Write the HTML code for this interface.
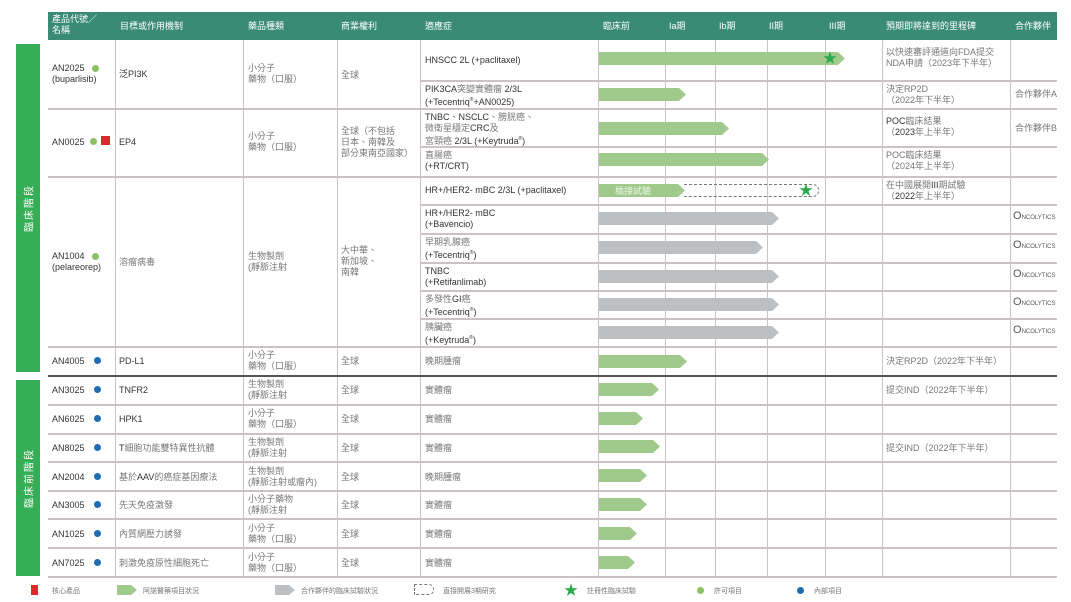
<!DOCTYPE html><html><head><meta charset="utf-8"><style>
body{margin:0;width:1071px;height:602px;background:#fff;position:relative;overflow:hidden;font-family:"Liberation Sans","Noto Sans CJK TC",sans-serif;font-size:9px;color:#333}
div{position:absolute}
.h{background:#398b76;left:48px;top:12px;width:1009px;height:28px}
.ht{color:#fff;font-size:9px;line-height:11px;top:16px}
.v{width:1px;background:#cbc2c4;top:40px;height:537px}
.l{height:1.5px;background:#cbc2c4}
.sec{background:#36ae55;left:16px;width:24px;color:#fff;font-size:10px;writing-mode:vertical-rl;text-orientation:sideways;transform:rotate(180deg);display:flex;align-items:center;justify-content:center;letter-spacing:2px}
.t{line-height:11px;white-space:nowrap}
.g{color:#777}
.dg{width:7px;height:7px;border-radius:50%;background:#8cc063}
.db{width:7px;height:7px;border-radius:50%;background:#1f6db1}
.ar{height:13px;clip-path:polygon(0 0,calc(100% - 7px) 0,100% 50%,calc(100% - 7px) 100%,0 100%)}
.gr{background:#9fca8c}.gy{background:#bcc0c3}
.st{color:#2aa84a;font-size:14px;line-height:14px}
.onc{font-size:6px;color:#555;line-height:7px}
</style></head><body>
<div class="h"></div>
<div class="ht" style="left:52px;top:14px">產品代號／<br>名稱</div>
<div class="ht" style="left:120px;top:21px">目標或作用機制</div>
<div class="ht" style="left:248px;top:21px">藥品種類</div>
<div class="ht" style="left:341px;top:21px">商業權利</div>
<div class="ht" style="left:425px;top:21px">適應症</div>
<div class="ht" style="left:603px;top:21px">臨床前</div>
<div class="ht" style="left:669px;top:21px">Ia期</div>
<div class="ht" style="left:719px;top:21px">Ib期</div>
<div class="ht" style="left:769px;top:21px">II期</div>
<div class="ht" style="left:829px;top:21px">III期</div>
<div class="ht" style="left:886px;top:21px">預期即將達到的里程碑</div>
<div class="ht" style="left:1015px;top:21px">合作夥伴</div>

<div class="sec" style="top:44px;height:328px">臨床階段</div>
<div class="sec" style="top:380px;height:196px">臨床前階段</div>

<div class="v" style="left:115px"></div><div class="v" style="left:243px"></div><div class="v" style="left:337px"></div><div class="v" style="left:420px"></div><div class="v" style="left:598px"></div><div class="v" style="left:665px"></div><div class="v" style="left:715px"></div><div class="v" style="left:767px"></div><div class="v" style="left:825px"></div><div class="v" style="left:882px"></div><div class="v" style="left:1010px"></div>

<div class="l" style="left:420px;width:637px;top:80px"></div>
<div class="l" style="left:48px;width:1009px;top:108px"></div>
<div class="l" style="left:420px;width:637px;top:146px"></div>
<div class="l" style="left:48px;width:1009px;top:176px"></div>
<div class="l" style="left:420px;width:637px;top:204px"></div>
<div class="l" style="left:420px;width:637px;top:233px"></div>
<div class="l" style="left:420px;width:637px;top:262px"></div>
<div class="l" style="left:420px;width:637px;top:290px"></div>
<div class="l" style="left:420px;width:637px;top:318px"></div>
<div class="l" style="left:48px;width:1009px;top:346px"></div>
<div style="left:48px;width:1009px;top:375px;height:2px;background:#555"></div>
<div class="l" style="left:48px;width:1009px;top:404px"></div>
<div class="l" style="left:48px;width:1009px;top:433px"></div>
<div class="l" style="left:48px;width:1009px;top:461px"></div>
<div class="l" style="left:48px;width:1009px;top:490px"></div>
<div class="l" style="left:48px;width:1009px;top:518px"></div>
<div class="l" style="left:48px;width:1009px;top:547px"></div>
<div class="l" style="left:48px;width:1009px;top:576px"></div>

<div class="t" style="left:52px;top:63px">AN2025<br>(buparlisib)</div><div class="dg" style="left:92px;top:65px"></div>
<div class="t" style="left:119px;top:69px">泛PI3K</div>
<div class="t g" style="left:248px;top:63px">小分子<br>藥物（口服）</div>
<div class="t g" style="left:341px;top:70px">全球</div>
<div class="t" style="left:425px;top:55px">HNSCC 2L (+paclitaxel)</div>
<div class="t" style="left:425px;top:84px">PIK3CA<span class="g">突變實體瘤</span> 2/3L<br>(+Tecentriq<sup style="font-size:5px">®</sup>+AN0025)</div>
<div class="ar gr" style="left:599px;top:52px;width:246px"></div><div class="st" style="left:823px;top:51px">★</div>
<div class="ar gr" style="left:599px;top:88px;width:87px"></div>
<div class="t g" style="left:886px;top:47px">以快速審評通道向FDA提交<br>NDA申請（2023年下半年）</div>
<div class="t g" style="left:886px;top:84px">決定RP2D<br>（2022年下半年）</div>
<div class="t g" style="left:1015px;top:89px">合作夥伴A</div>

<div class="t" style="left:52px;top:137px">AN0025</div><div class="dg" style="left:90px;top:138px"></div><div style="left:101px;top:136px;width:9px;height:9px;background:#e3262c"></div>
<div class="t" style="left:119px;top:137px">EP4</div>
<div class="t g" style="left:248px;top:131px">小分子<br>藥物（口服）</div>
<div class="t g" style="left:341px;top:126px">全球（不包括<br>日本、南韓及<br>部分東南亞國家）</div>
<div class="t" style="left:425px;top:112px">TNBC<span class="g">、</span>NSCLC<span class="g">、膀胱癌、<br>微衛星穩定</span>CRC<span class="g">及<br>宮頸癌</span> 2/3L (+Keytruda<sup style="font-size:5px">®</sup>)</div>
<div class="t" style="left:425px;top:150px"><span class="g">直腸癌</span><br>(+RT/CRT)</div>
<div class="ar gr" style="left:599px;top:122px;width:130px"></div>
<div class="ar gr" style="left:599px;top:153px;width:170px"></div>
<div class="t" style="left:886px;top:116px">POC<span class="g">臨床結果<br>（</span>2023<span class="g">年上半年）</span></div>
<div class="t g" style="left:886px;top:150px">POC臨床結果<br>（2024年上半年）</div>
<div class="t g" style="left:1015px;top:123px">合作夥伴B</div>

<div class="t" style="left:52px;top:251px">AN1004<br>(pelareorep)</div><div class="dg" style="left:92px;top:253px"></div>
<div class="t g" style="left:119px;top:257px">溶瘤病毒</div>
<div class="t g" style="left:248px;top:251px">生物製劑<br>(靜脈注射</div>
<div class="t g" style="left:341px;top:245px">大中華、<br>新加坡、<br>南韓</div>
<div class="t" style="left:425px;top:185px">HR+/HER2- mBC 2/3L (+paclitaxel)</div>
<div class="ar gr" style="left:599px;top:184px;width:86px"></div><div class="t" style="left:615px;top:186px;color:#eef6ea">橋接試驗</div>
<div style="left:684px;top:184px;width:134px;height:11px;border:1px dashed #777;border-left:none;border-radius:0 6px 6px 0"></div><div class="st" style="left:799px;top:183px">★</div>
<div class="t" style="left:886px;top:180px"><span class="g">在中國展開</span>III<span class="g">期試驗<br>（</span>2022<span class="g">年上半年）</span></div>
<div class="t" style="left:425px;top:208px">HR+/HER2- mBC<br>(+Bavencio)</div>
<div class="t" style="left:425px;top:237px"><span class="g">早期乳腺癌</span><br>(+Tecentriq<sup style="font-size:5px">®</sup>)</div>
<div class="t" style="left:425px;top:266px">TNBC<br>(+Retifanlimab)</div>
<div class="t" style="left:425px;top:294px"><span class="g">多發性</span>GI<span class="g">癌</span><br>(+Tecentriq<sup style="font-size:5px">®</sup>)</div>
<div class="t" style="left:425px;top:322px"><span class="g">胰臟癌</span><br>(+Keytruda<sup style="font-size:5px">®</sup>)</div>
<div class="ar gy" style="left:599px;top:212px;width:180px"></div>
<div class="ar gy" style="left:599px;top:241px;width:164px"></div>
<div class="ar gy" style="left:599px;top:270px;width:180px"></div>
<div class="ar gy" style="left:599px;top:298px;width:180px"></div>
<div class="ar gy" style="left:599px;top:326px;width:180px"></div>
<div class="onc" style="left:1013px;top:213px"><span style="font-size:11px">O</span>NCOLYTICS</div>
<div class="onc" style="left:1013px;top:242px"><span style="font-size:11px">O</span>NCOLYTICS</div>
<div class="onc" style="left:1013px;top:271px"><span style="font-size:11px">O</span>NCOLYTICS</div>
<div class="onc" style="left:1013px;top:299px"><span style="font-size:11px">O</span>NCOLYTICS</div>
<div class="onc" style="left:1013px;top:327px"><span style="font-size:11px">O</span>NCOLYTICS</div>

<div class="t" style="left:52px;top:356px">AN4005</div><div class="db" style="left:94px;top:357px"></div>
<div class="t" style="left:119px;top:356px">PD-L1</div>
<div class="t g" style="left:248px;top:350px">小分子<br>藥物（口服）</div>
<div class="t g" style="left:341px;top:356px">全球</div>
<div class="t g" style="left:425px;top:356px">晚期腫瘤</div>
<div class="ar gr" style="left:599px;top:355px;width:88px"></div>
<div class="t g" style="left:886px;top:356px">決定RP2D（2022年下半年）</div>

<div class="t" style="left:52px;top:385px">AN3025</div><div class="db" style="left:94px;top:386px"></div>
<div class="t" style="left:119px;top:385px">TNFR2</div>
<div class="t g" style="left:248px;top:379px">生物製劑<br>(靜脈注射</div>
<div class="t g" style="left:341px;top:385px">全球</div><div class="t g" style="left:425px;top:385px">實體瘤</div>
<div class="ar gr" style="left:599px;top:383px;width:60px"></div>
<div class="t g" style="left:886px;top:385px">提交IND（2022年下半年）</div>

<div class="t" style="left:52px;top:414px">AN6025</div><div class="db" style="left:94px;top:415px"></div>
<div class="t" style="left:119px;top:414px">HPK1</div>
<div class="t g" style="left:248px;top:408px">小分子<br>藥物（口服）</div>
<div class="t g" style="left:341px;top:414px">全球</div><div class="t g" style="left:425px;top:414px">實體瘤</div>
<div class="ar gr" style="left:599px;top:412px;width:44px"></div>

<div class="t" style="left:52px;top:443px">AN8025</div><div class="db" style="left:94px;top:444px"></div>
<div class="t g" style="left:119px;top:443px"><span style="color:#333">T</span>細胞功能雙特異性抗體</div>
<div class="t g" style="left:248px;top:437px">生物製劑<br>(靜脈注射</div>
<div class="t g" style="left:341px;top:443px">全球</div><div class="t g" style="left:425px;top:443px">實體瘤</div>
<div class="ar gr" style="left:599px;top:440px;width:61px"></div>
<div class="t g" style="left:886px;top:443px">提交IND（2022年下半年）</div>

<div class="t" style="left:52px;top:472px">AN2004</div><div class="db" style="left:94px;top:473px"></div>
<div class="t g" style="left:119px;top:472px">基於<span style="color:#333">AAV</span>的癌症基因療法</div>
<div class="t g" style="left:248px;top:466px">生物製劑<br>(靜脈注射或瘤內)</div>
<div class="t g" style="left:341px;top:472px">全球</div><div class="t g" style="left:425px;top:472px">晚期腫瘤</div>
<div class="ar gr" style="left:599px;top:469px;width:48px"></div>

<div class="t" style="left:52px;top:500px">AN3005</div><div class="db" style="left:94px;top:501px"></div>
<div class="t g" style="left:119px;top:500px">先天免疫激發</div>
<div class="t g" style="left:248px;top:494px">小分子藥物<br>(靜脈注射</div>
<div class="t g" style="left:341px;top:500px">全球</div><div class="t g" style="left:425px;top:500px">實體瘤</div>
<div class="ar gr" style="left:599px;top:498px;width:48px"></div>

<div class="t" style="left:52px;top:529px">AN1025</div><div class="db" style="left:94px;top:530px"></div>
<div class="t g" style="left:119px;top:529px">內質網壓力誘發</div>
<div class="t g" style="left:248px;top:523px">小分子<br>藥物（口服）</div>
<div class="t g" style="left:341px;top:529px">全球</div><div class="t g" style="left:425px;top:529px">實體瘤</div>
<div class="ar gr" style="left:599px;top:527px;width:38px"></div>

<div class="t" style="left:52px;top:558px">AN7025</div><div class="db" style="left:94px;top:559px"></div>
<div class="t g" style="left:119px;top:558px">刺激免疫原性細胞死亡</div>
<div class="t g" style="left:248px;top:552px">小分子<br>藥物（口服）</div>
<div class="t g" style="left:341px;top:558px">全球</div><div class="t g" style="left:425px;top:558px">實體瘤</div>
<div class="ar gr" style="left:599px;top:556px;width:36px"></div>

<div style="left:31px;top:585px;width:7px;height:10px;background:#e3262c"></div>
<div class="t g" style="left:52px;top:586px;font-size:7px">核心產品</div>
<div class="ar gr" style="left:117px;top:585px;width:20px;height:10px;clip-path:polygon(0 0,70% 0,100% 50%,70% 100%,0 100%)"></div>
<div class="t g" style="left:143px;top:586px;font-size:7px">阿諾醫藥項目狀況</div>
<div class="ar gy" style="left:275px;top:585px;width:20px;height:10px;clip-path:polygon(0 0,70% 0,100% 50%,70% 100%,0 100%)"></div>
<div class="t g" style="left:301px;top:586px;font-size:7px">合作夥伴的臨床試驗狀況</div>
<div style="left:414px;top:584px;width:18px;height:9px;border:1px dashed #777;border-radius:0 5px 5px 0"></div>
<div class="t g" style="left:443px;top:586px;font-size:7px">直接開展3期研究</div>
<div class="st" style="left:564px;top:583px">★</div>
<div class="t g" style="left:587px;top:586px;font-size:7px">註冊性臨床試驗</div>
<div class="dg" style="left:697px;top:587px"></div>
<div class="t g" style="left:714px;top:586px;font-size:7px">許可項目</div>
<div class="db" style="left:797px;top:587px"></div>
<div class="t g" style="left:814px;top:586px;font-size:7px">內部項目</div>
</body></html>
